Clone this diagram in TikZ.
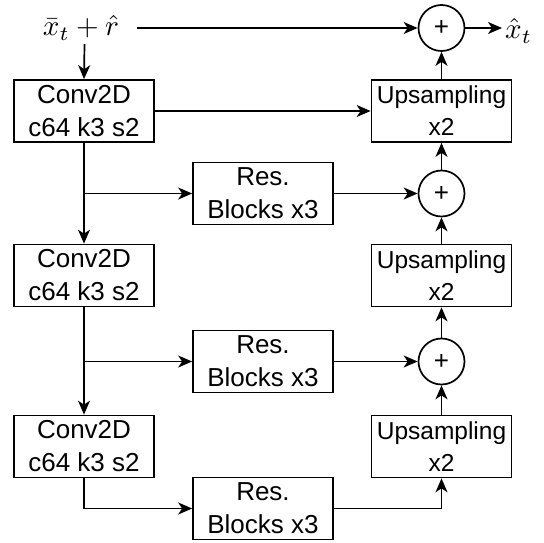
\documentclass[tikz,border=0pt]{standalone}
\usepackage{graphicx}
\usepackage{fontspec}
\setmainfont{Liberation Sans}
\usetikzlibrary{arrows.meta,positioning}
\newcommand{\bigmath}[1]{\scalebox{2.9}{$#1$}}
\begin{document}
\begin{tikzpicture}[x=1pt,y=-1pt,
  box/.style={draw,line width=1.7pt,minimum width=140pt,minimum height=62pt,inner sep=0pt,align=center,
    font=\fontsize{26}{33}\selectfont},
  upbox/.style={box,font=\fontsize{24.5}{32}\selectfont},
  sumnode/.style={draw,circle,line width=1.7pt,minimum size=46pt,inner sep=0pt,font=\fontsize{26}{30}\selectfont},
  arr/.style={line width=1.7pt,-{Stealth[length=14pt,width=12pt,inset=4pt]}},
  mathlbl/.style={inner sep=0pt}]
\useasboundingbox (0,0) rectangle (544,543);
% left column
\node[mathlbl] (in) at (81,28) {\bigmath{\bar{x}_t+\hat{r}}};
\node[box] (c1) at (84,111) {Conv2D\\c64 k3 s2};
\node[box] (c2) at (84,275.5) {Conv2D\\c64 k3 s2};
\node[box] (c3) at (84,446.5) {Conv2D\\c64 k3 s2};
% middle column
\node[box] (r1) at (263,193.5) {Res.\\Blocks x3};
\node[box] (r2) at (263,361.5) {Res.\\Blocks x3};
\node[box] (r3) at (263,508.5) {Res.\\Blocks x3};
% right column
\node[sumnode] (s1) at (441.5,28) {+};
\node[upbox] (u1) at (441.5,111) {Upsampling\\x2};
\node[sumnode] (s2) at (441.5,193.5) {+};
\node[upbox] (u2) at (441.5,275.5) {Upsampling\\x2};
\node[sumnode] (s3) at (441.5,361.5) {+};
\node[upbox] (u3) at (441.5,446.5) {Upsampling\\x2};
\node[mathlbl,anchor=west] (out) at (505,31) {\bigmath{\hat{x}_t}};
% connectors
\coordinate (inr) at (137,28);
\coordinate (outtip) at (502,28);
\coordinate (indown) at (84.5,44);
\draw[arr] (inr) -- (s1.west);
\draw[arr] (s1.east) -- (outtip);
\draw[arr] (indown) -- (c1.north);
\draw[arr] (c1.east) -- (u1.west);
\draw[arr] (c1.south) -- (c2.north);
\draw[arr] (c1.south |- r1.west) -- (r1.west);
\draw[arr] (c2.south) -- (c3.north);
\draw[arr] (c2.south |- r2.west) -- (r2.west);
\draw[arr] (c3.south) |- (r3.west);
\draw[arr] (r1.east) -- (s2.west);
\draw[arr] (r2.east) -- (s3.west);
\draw[arr] (r3.east) -| (u3.south);
\draw[arr] (u3.north) -- (s3.south);
\draw[arr] (s3.north) -- (u2.south);
\draw[arr] (u2.north) -- (s2.south);
\draw[arr] (s2.north) -- (u1.south);
\draw[arr] (u1.north) -- (s1.south);
\end{tikzpicture}
\end{document}
